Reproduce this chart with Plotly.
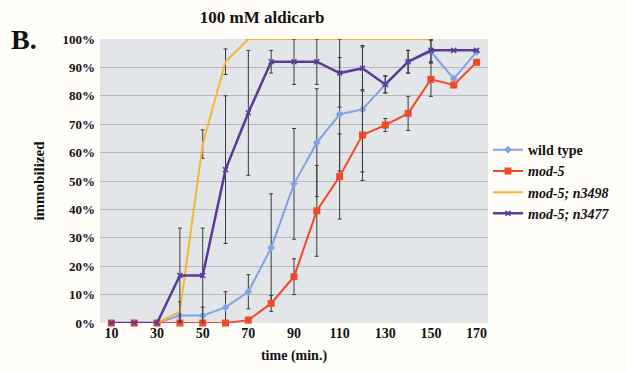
import plotly.graph_objects as go

time = [10, 20, 30, 40, 50, 60, 70, 80, 90, 100, 110, 120, 130, 140, 150, 160, 170]
wild_type = [0, 0, 0, 2.6, 2.6, 5.5, 11, 26.5, 49, 63.5, 73.5, 75.2, 84, 92, 95.5, 86, 95.5]
wild_type_err = [0, 0, 0, 0, 3, 5.5, 6, 19, 19.5, 19, 20, 22, 3, 4, 4, 0, 0]
mod5 = [0, 0, 0, 0, 0, 0, 1, 6.9, 16.3, 39.5, 51.6, 66.2, 69.7, 73.8, 85.8, 83.8, 91.8]
mod5_err = [0, 0, 0, 0, 0, 0, 1, 2.8, 6.3, 16, 15, 16, 2.3, 6, 6, 0, 0]
n3498 = [0, 0, 0, 4, 63, 92, 100, 100, 100, 100, 100, 100, 100, 100, 100, None, None]
n3498_err = [0, 0, 0, 3.5, 5, 4.5, 0, 0, 0, 0, 0, 0, 0, 0, 0, 0, 0]
n3477 = [0, 0, 0, 16.7, 16.7, 54, 74, 92, 92, 92, 88, 89.7, 84, 92, 96, 96, 96]
n3477_err = [0, 0, 0, 16.7, 16.7, 26, 22, 4, 8, 8, 12, 8, 3, 4, 4, 0, 0]

y_ticks = [0, 10, 20, 30, 40, 50, 60, 70, 80, 90, 100]
y_tick_labels = [f"{v}%" for v in y_ticks]
x_ticks = [10, 30, 50, 70, 90, 110, 130, 150, 170]

serif = "Liberation Serif, serif"
err_color = "#3a3a3a"

def err(vals):
    return dict(type="data", array=vals, visible=True, color=err_color, thickness=1, width=2)

fig = go.Figure()
fig.add_trace(go.Scatter(x=time, y=wild_type, name="<b>wild type</b>", mode="lines+markers",
                         line=dict(color="#7fa4e6", width=2),
                         marker=dict(symbol="diamond", size=6, color="#7fa4e6"),
                         error_y=err(wild_type_err), cliponaxis=False))
fig.add_trace(go.Scatter(x=time, y=mod5, name="<b><i>mod-5</i></b>", mode="lines+markers",
                         line=dict(color="#f04a2a", width=2),
                         marker=dict(symbol="square", size=7, color="#f04a2a"),
                         error_y=err(mod5_err), cliponaxis=False))
fig.add_trace(go.Scatter(x=time, y=n3498, name="<b><i>mod-5; n3498</i></b>", mode="lines",
                         line=dict(color="#f9b434", width=2),
                         error_y=err(n3498_err), cliponaxis=False))
fig.add_trace(go.Scatter(x=time, y=n3477, name="<b><i>mod-5; n3477</i></b>", mode="lines+markers",
                         line=dict(color="#5b3a9c", width=2.5),
                         marker=dict(symbol="x-thin", size=5, color="#5b3a9c", line=dict(width=1.5, color="#5b3a9c")),
                         error_y=err(n3477_err), cliponaxis=False))

fig.update_layout(
    width=627, height=372,
    margin=dict(l=100, r=126, t=39, b=49),
    paper_bgcolor="#fffef9",
    plot_bgcolor="#e2e6e8",
    font=dict(family=serif, color="#111111", size=13),
    title=dict(text="<b>100 mM aldicarb</b>", x=0.418, xanchor="center", y=0.955, yanchor="middle",
               font=dict(size=17, family=serif)),
    xaxis=dict(range=[5, 175], tickmode="array", tickvals=x_ticks,
               ticktext=[f"<b>{v}</b>" for v in x_ticks],
               showgrid=False, zeroline=False, showline=False, ticks="",
               tickfont=dict(size=14, family=serif),
               title=dict(text="<b>time (min.)</b>", font=dict(size=14, family=serif), standoff=10)),
    yaxis=dict(range=[0, 100], tickmode="array", tickvals=y_ticks,
               ticktext=[f"<b>{t}</b>" for t in y_tick_labels],
               showgrid=True, gridcolor="#b8b8bc", gridwidth=1, zeroline=False, showline=False, ticks="",
               tickfont=dict(size=13, family=serif), ticklabelstandoff=4,
               title=dict(text="<b>immobilized</b>", font=dict(size=15, family=serif), standoff=14)),
    legend=dict(x=1.0, xanchor="left", y=0.665, yanchor="top", bgcolor="rgba(0,0,0,0)",
                font=dict(size=14, family=serif), tracegroupgap=0, itemwidth=30),
    showlegend=True,
)

fig.add_annotation(text="<b>B.</b>", xref="paper", yref="paper", x=-0.235, y=1.0,
                   xanchor="left", yanchor="middle", showarrow=False,
                   font=dict(size=28, family=serif, color="#111111"))

fig.write_html("out.html")
